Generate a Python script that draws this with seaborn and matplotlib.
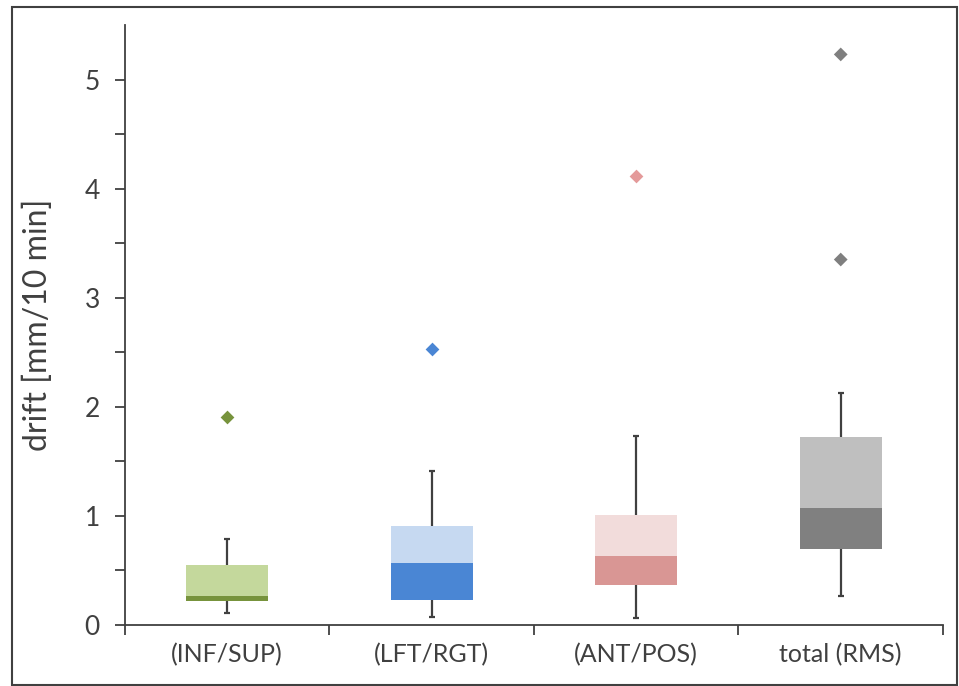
import matplotlib
matplotlib.use("Agg")
import matplotlib.pyplot as plt
import seaborn as sns
import pandas as pd
from matplotlib.patches import Rectangle

# --------------------------
# Data
# --------------------------
categories = ["(INF/SUP)", "(LFT/RGT)", "(ANT/POS)", "total (RMS)"]
whisker_low = [0.11, 0.07, 0.06, 0.27]
q1 = [0.22, 0.23, 0.37, 0.70]
median = [0.27, 0.57, 0.63, 1.07]
q3 = [0.55, 0.91, 1.01, 1.72]
whisker_high = [0.79, 1.41, 1.73, 2.13]
outlier_cat = ["(INF/SUP)", "(LFT/RGT)", "(ANT/POS)", "total (RMS)", "total (RMS)"]
outlier_val = [1.91, 2.53, 4.12, 5.23, 3.35]

dark_colors = ["#77933c", "#4a86d4", "#d99694", "#808080"]
light_colors = ["#c4d89c", "#c6d9f1", "#f2dcdb", "#bfbfbf"]
marker_colors = ["#77933c", "#4a86d4", "#e49a9a", "#7f7f7f"]

sns.set_style("white")
plt.rcParams['font.family'] = ['Lato', 'DejaVu Sans']

fig = plt.figure(figsize=(9.59, 6.86), dpi=100)
ax = fig.add_axes([0.1303, 0.0889, 0.8530, 0.8747])

df = pd.DataFrame({"cat": categories,
                   "lower": [m - a for m, a in zip(median, q1)],
                   "upper": [b - m for m, b in zip(median, q3)]})

# whiskers first so the boxes sit on top
for i in range(len(categories)):
    ax.vlines(i, whisker_low[i], q1[i], color="#404040", lw=1.6, zorder=1)
    ax.vlines(i, q3[i], whisker_high[i], color="#404040", lw=1.6, zorder=1)
    ax.hlines([whisker_low[i], whisker_high[i]], i - 0.015, i + 0.015,
              color="#404040", lw=1.6, zorder=1)

# lower half of the box (q1 -> median), dark tone
sns.barplot(data=df, x="cat", y="lower", order=categories, bottom=q1,
            color="gray", saturation=1, width=0.4, ax=ax, errorbar=None,
            linewidth=0, zorder=2)
n_low = len(ax.patches)
# upper half of the box (median -> q3), light tone
sns.barplot(data=df, x="cat", y="upper", order=categories, bottom=median,
            color="gray", saturation=1, width=0.4, ax=ax, errorbar=None,
            linewidth=0, zorder=2)
for j, p in enumerate(ax.patches):
    if j < n_low:
        p.set_facecolor(dark_colors[j])
    else:
        p.set_facecolor(light_colors[j - n_low])

# outliers
out_df = pd.DataFrame({"cat": outlier_cat, "val": outlier_val})
sns.stripplot(data=out_df, x="cat", y="val", order=categories, hue="cat",
              hue_order=categories, palette=marker_colors, jitter=False,
              marker="D", size=7, linewidth=0, legend=False, ax=ax, zorder=3)

# --------------------------
# Axes styling
# --------------------------
ax.set_xlim(-0.5, 3.5)
ax.set_ylim(0, 5.5)
ax.set_xticks([-0.5, 0.5, 1.5, 2.5, 3.5])
ax.set_xticklabels([])
ax.set_xticks(range(len(categories)), minor=True)
ax.set_xticklabels(categories, minor=True)
ax.set_yticks(range(6))
ax.set_yticks([0.5, 1.5, 2.5, 3.5, 4.5], minor=True)
ax.tick_params(axis="x", which="major", length=7, width=1.3, color="#404040",
               direction="out", bottom=True)
ax.tick_params(axis="x", which="minor", length=0, labelsize=18,
               labelcolor="#404040", pad=13)
ax.tick_params(axis="y", which="both", length=7, width=1.3, color="#404040",
               direction="out", left=True, labelsize=19, labelcolor="#404040",
               pad=11)
ax.set_xlabel("")
ax.set_ylabel("drift [mm/10 min]", fontsize=23, color="#404040")
ax.yaxis.set_label_coords(-0.088, 0.5)
sns.despine(ax=ax)
for s in ["left", "bottom"]:
    ax.spines[s].set_color("#404040")
    ax.spines[s].set_linewidth(1.3)

# thin frame around the picture
fig.patches.append(Rectangle((12 / 959, 0.002), 945 / 959, (686 - 7) / 686 - 0.002,
                             transform=fig.transFigure, fill=False,
                             edgecolor="#404040", lw=1.5))

fig.savefig("out.png", dpi=100)
